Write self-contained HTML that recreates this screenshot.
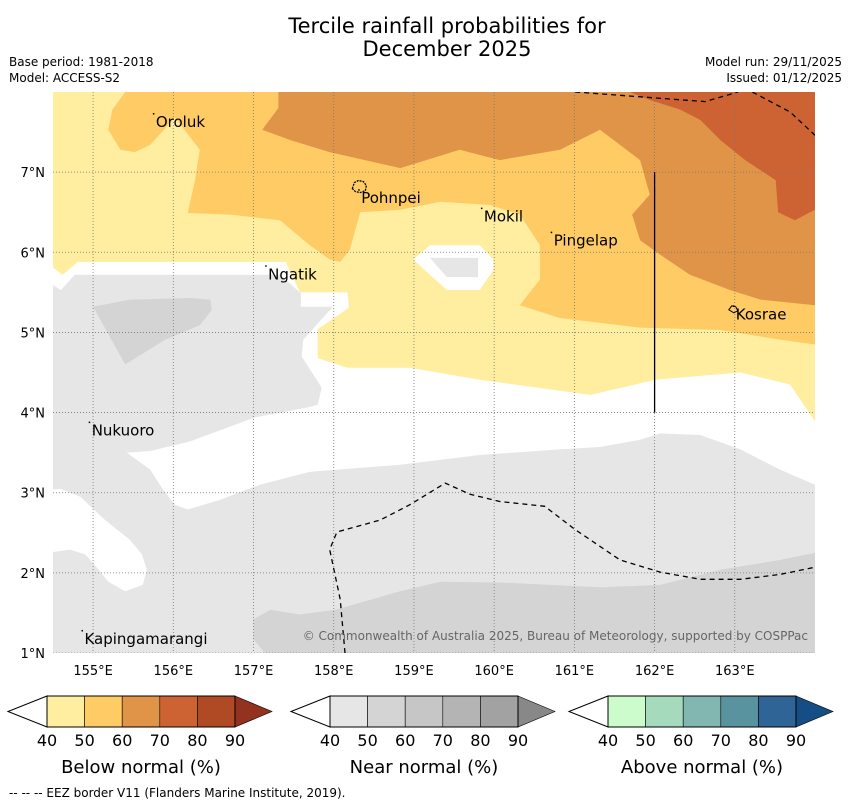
<!DOCTYPE html>
<html><head><meta charset="utf-8">
<style>
body{margin:0;background:#fff;width:850px;height:804px;overflow:hidden;font-family:"Liberation Sans","DejaVu Sans",sans-serif;}
svg text{font-family:"DejaVu Sans","Liberation Sans",sans-serif;}
</style></head>
<body>
<svg id="chart" width="850" height="804" viewBox="0 0 850 804" xmlns="http://www.w3.org/2000/svg">
<text x="447" y="33" font-size="21" text-anchor="middle">Tercile rainfall probabilities for</text>
<text x="447" y="56" font-size="21" text-anchor="middle">December 2025</text>
<text x="9" y="66" font-size="12">Base period: 1981-2018</text>
<text x="9" y="82" font-size="12">Model: ACCESS-S2</text>
<text x="842" y="66" font-size="12" text-anchor="end">Model run: 29/11/2025</text>
<text x="842" y="82" font-size="12" text-anchor="end">Issued: 01/12/2025</text>
<defs><clipPath id="mapclip"><rect x="53" y="92" width="762" height="561"/></clipPath></defs>
<g id="map" clip-path="url(#mapclip)"></g>
<g id="axes"></g>
<g id="bars"></g>
<text x="9" y="797" font-size="12">--  --  -- EEZ border V11 (Flanders Marine Institute, 2019).</text>
</svg>
<script>
const lonTicks=[155,156,157,158,159,160,161,162,163];
const latTicks=[1,2,3,4,5,6,7];
const lonRange=[154.5,164.0];
const latRange=[1.0,8.0];
const whiteBand=[[154.5,8],[164,8],[164,3.1],[163.56,3.29],[163.07,3.54],[162.57,3.72],[162.07,3.74],[161.82,3.66],[161.32,3.57],[160.82,3.54],[159.82,3.47],[158.83,3.35],[157.7,3.26],[157.08,3.1],[156.58,2.91],[156.18,2.79],[156.02,2.85],[155.87,3.04],[155.71,3.29],[155.42,3.5],[155.71,3.52],[156.21,3.64],[157.02,3.94],[157.7,4.07],[157.8,4.1],[157.85,4.31],[157.6,4.7],[157.62,4.91],[157.99,5.32],[157.59,5.32],[157.59,5.49],[157.33,5.72],[154.77,5.72],[154.6,5.53],[154.5,5.59]];
const whiteBlob=[[154.5,3.04],[154.59,3.05],[154.84,2.95],[155.15,2.66],[155.46,2.41],[155.61,2.23],[155.67,2.04],[155.62,1.85],[155.4,1.77],[155.19,1.89],[155.05,2.06],[154.9,2.23],[154.71,2.29],[154.5,2.26]];
const nearPatchA=[[155,5.32],[155.46,5.41],[156.21,5.43],[156.46,5.41],[156.48,5.28],[156.33,5.09],[155.9,4.91],[155.4,4.6]];
const nearPatchB=[[157,1.17],[157,1.42],[157.21,1.54],[157.58,1.48],[158.02,1.54],[158.83,1.77],[159.33,1.89],[160.07,1.88],[161.32,1.82],[162.07,1.85],[162.82,2.04],[163.56,2.16],[164,2.25],[164,1],[157.14,1]];
const below40=[[154.5,8],[164,8],[164,3.89],[163.69,4.35],[163.07,4.5],[162.01,4.41],[161.2,4.22],[159.82,4.41],[158.95,4.56],[158.17,4.56],[157.8,4.68],[157.8,5.04],[158.19,5.31],[158.17,5.5],[157.58,5.5],[157.4,5.88],[154.81,5.88],[154.62,5.72],[154.5,5.81]];
const holeWhite=[[159.2,6.09],[159.82,6.09],[159.99,5.91],[159.99,5.78],[159.82,5.53],[159.41,5.53],[158.99,5.91]];
const holeNear=[[159.2,5.93],[159.8,5.93],[159.8,5.69],[159.41,5.69]];
const below50=[[155.4,8],[164,8],[164,4.85],[163.56,4.91],[162.82,5.03],[161.82,5.06],[160.82,5.18],[160.32,5.34],[160.57,5.66],[160.57,6.09],[160.32,6.47],[159.95,6.59],[159.33,6.63],[158.83,6.53],[158.33,6.5],[158.2,6.03],[158.08,5.88],[157.95,5.91],[157.7,6.09],[157.33,6.4],[156.71,6.47],[156.18,6.49],[156.27,6.9],[156.33,7.28],[156.02,7.68],[155.71,7.34],[155.52,7.25],[155.34,7.28],[155.19,7.53],[155.24,7.78]];
const below60=[[157.31,8],[164,8],[164,5.34],[163.32,5.41],[162.94,5.53],[162.44,5.72],[162.07,5.97],[161.82,6.15],[161.72,6.47],[161.94,6.72],[161.82,7.15],[161.32,7.53],[160.82,7.28],[160.07,7.15],[159.57,7.28],[158.83,7.05],[157.95,7.25],[157.46,7.4],[157.11,7.53],[157.31,7.8]];
const below70=[[161.69,8],[164,8],[164,6.53],[163.75,6.4],[163.54,6.5],[163.51,6.9],[163.13,7.15],[162.82,7.4],[162.57,7.65],[162.32,7.78],[161.94,7.9]];
const eezLower=[[158.14,1],[158.08,1.67],[157.95,2.29],[158.04,2.51],[158.58,2.66],[158.95,2.85],[159.39,3.12],[159.7,2.98],[160.07,2.89],[160.63,2.83],[161.01,2.54],[161.57,2.16],[162.07,2.01],[162.57,1.92],[163.07,1.92],[163.56,1.98],[164,2.07]];
const eezUpperA=[[161.01,8],[161.82,7.94],[162.63,7.88],[163.04,8]];
const eezUpperB=[[163.22,8],[163.69,7.75],[164,7.46]];
const divider=[[162,4],[162,7]];
const placeNames=["Oroluk","Pohnpei","Mokil","Pingelap","Ngatik","Kosrae","Nukuoro","Kapingamarangi"];
const placeLon=[155.77,158.33,159.86,160.73,157.17,163.0,154.97,154.88];
const placeLat=[7.7,6.75,6.52,6.22,5.8,5.3,3.85,1.25];
const cbLevels=[40,50,60,70,80,90];
const belowColors=["#ffeda0","#fecb65","#e09448","#cd6333","#b04a25","#93321f"];
const nearColors=["#e6e6e6","#d4d4d4","#c6c6c6","#b4b4b4","#a2a2a2","#888888"];
const aboveColors=["#ccfccc","#a6dabd","#82b6b0","#5a93a0","#2f6596","#154d85"];
const cbTitles=["Below normal (%)","Near normal (%)","Above normal (%)"];

const NS="http://www.w3.org/2000/svg";
const X0=53,X1=815,Y0=92,Y1=653;
function xS(lon){return X0+(lon-lonRange[0])/(lonRange[1]-lonRange[0])*(X1-X0);}
function yS(lat){return Y1-(lat-latRange[0])/(latRange[1]-latRange[0])*(Y1-Y0);}
function pts(a){return a.map(p=>xS(p[0]).toFixed(1)+","+yS(p[1]).toFixed(1)).join(" ");}
function mk(tag,attrs,parent){const e=document.createElementNS(NS,tag);for(const k in attrs)e.setAttribute(k,attrs[k]);parent.appendChild(e);return e;}
const map=document.getElementById("map");
let r=mk("rect",{x:X0,y:Y0,width:X1-X0,height:Y1-Y0,fill:"#e6e6e6"},map);


function poly(arr,fill,name){const p=mk("polygon",{points:pts(arr),fill:fill},map);


return p;}
poly(nearPatchA,"#d4d4d4","near-50-patch-west");
poly(nearPatchB,"#d4d4d4","near-50-patch-south");
poly(whiteBand,"#ffffff","no-signal-band");
poly(whiteBlob,"#ffffff","no-signal-west");
poly(below40,belowColors[0],"below-40-region");
poly(holeWhite,"#ffffff","no-signal-hole");
poly(holeNear,"#e6e6e6","near-40-hole");
poly(below50,belowColors[1],"below-50-region");
poly(below60,belowColors[2],"below-60-region");
poly(below70,belowColors[3],"below-70-region");
lonTicks.forEach(v=>{const l=mk("line",{x1:xS(v),x2:xS(v),y1:Y0,y2:Y1,stroke:"#777","stroke-width":0.8,"stroke-dasharray":"1,2"},map);

});
latTicks.forEach(v=>{const l=mk("line",{x1:X0,x2:X1,y1:yS(v),y2:yS(v),stroke:"#777","stroke-width":0.8,"stroke-dasharray":"1,2"},map);

});
function line(arr,name,dash){const p=mk("polyline",{points:pts(arr),fill:"none",stroke:"#000","stroke-width":1.3},map);
if(dash)p.setAttribute("stroke-dasharray","5,4");

}
line(eezLower,"eez-border-south",true);
line(eezUpperA,"eez-border-north",true);
line(eezUpperB,"eez-border-northeast",true);
line(divider,"eez-divider",false);
let pohn=mk("path",{d:"M"+(xS(158.12)+9)+","+(yS(6.87)+6)+" l2,-6 l4,-2 l5,1 l3,4 l-1,5 l-5,2 l-5,-1 z",fill:"none",stroke:"#000","stroke-width":1.3,"stroke-dasharray":"2,1"},map);


let kos=mk("path",{d:"M"+(xS(163.0)-6)+","+(yS(5.32)+3)+" l3,-4 l4,1 l2,4 l-4,2 z",fill:"none",stroke:"#000","stroke-width":1},map);


placeNames.forEach((n,i)=>{const t=mk("text",{x:xS(placeLon[i])+1,y:yS(placeLat[i])+11,"font-size":15,fill:"#000"},map);t.textContent=n;


const d=mk("rect",{x:xS(placeLon[i])-2,y:yS(placeLat[i])-3,width:1.5,height:1.5,fill:"#000"},map);

});
let cr=mk("text",{x:808,y:640,"font-size":12,fill:"#666","text-anchor":"end"},map);
cr.textContent="© Commonwealth of Australia 2025, Bureau of Meteorology, supported by COSPPac";


const axes=document.getElementById("axes");
lonTicks.forEach(v=>{const t=mk("text",{x:xS(v),y:675,"font-size":13,"text-anchor":"middle"},axes);t.textContent=v+"°E";

});
latTicks.forEach(v=>{const t=mk("text",{x:45,y:yS(v)+5,"font-size":13,"text-anchor":"end"},axes);t.textContent=v+"°N";

});
const bars=document.getElementById("bars");
const cbLeft=[47,330,608];
const cbW=188,cbTop=696,cbH=31;
[belowColors,nearColors,aboveColors].forEach((cols,b)=>{
 const x0=cbLeft[b];const g=mk("g",{},bars);
 
 
 const cw=cbW/(cbLevels.length-1);
 mk("polygon",{points:`${x0},${cbTop} ${x0-39},${cbTop+cbH/2} ${x0},${cbTop+cbH}`,fill:"#fff",stroke:"#000","stroke-width":1},g);
 for(let i=0;i<cbLevels.length-1;i++){mk("rect",{x:x0+i*cw,y:cbTop,width:cw,height:cbH,fill:cols[i],stroke:"#000","stroke-width":0.6},g);}
 const xe=x0+cbW;
 mk("polygon",{points:`${xe},${cbTop} ${xe+37},${cbTop+cbH/2} ${xe},${cbTop+cbH}`,fill:cols[5],stroke:"#000","stroke-width":0.6},g);
 mk("rect",{x:x0,y:cbTop,width:cbW,height:cbH,fill:"none",stroke:"#000","stroke-width":1},g);
 cbLevels.forEach((v,i)=>{const t=mk("text",{x:x0+i*cw,y:746,"font-size":16,"text-anchor":"middle"},g);t.textContent=v;});
 const tt=mk("text",{x:x0+cbW/2,y:773,"font-size":18,"text-anchor":"middle"},g);tt.textContent=cbTitles[b];
});
</script>
</body></html>
